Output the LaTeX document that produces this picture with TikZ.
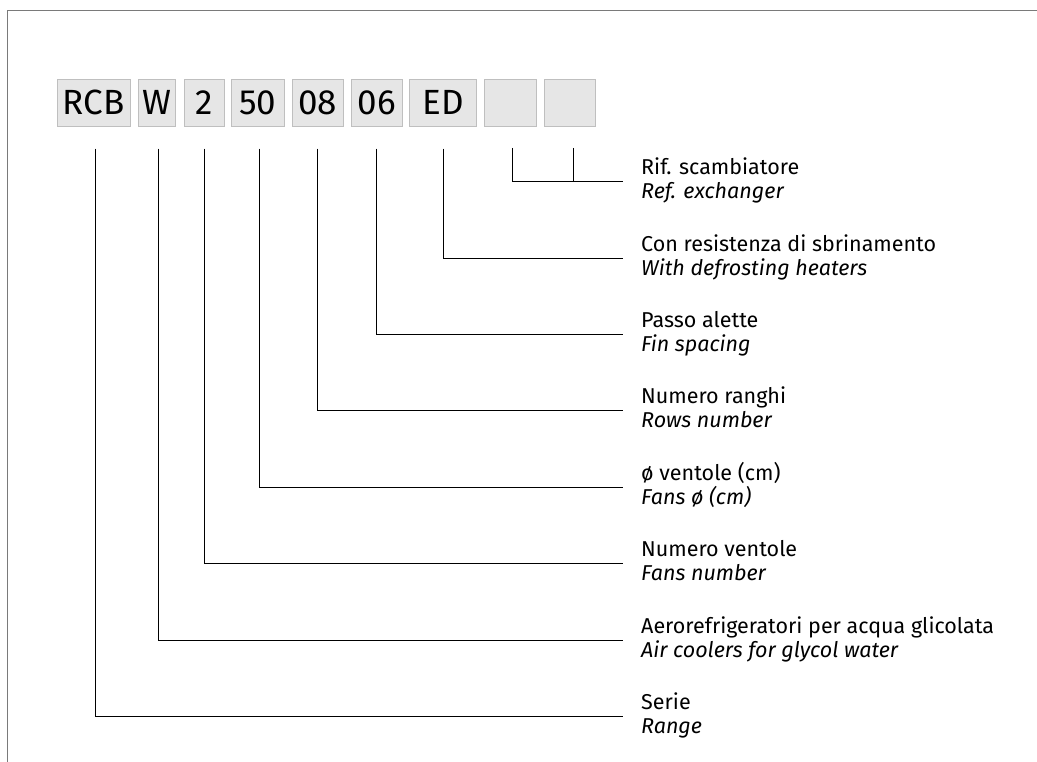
\documentclass[tikz,border=0pt]{standalone}
\usepackage{fontspec}
\setmainfont{Fira Sans}
\definecolor{boxfill}{HTML}{E6E6E6}
\definecolor{boxline}{HTML}{BFBFBF}
\definecolor{frameline}{HTML}{7A7A7A}
\begin{document}
\begin{tikzpicture}[x=1pt,y=-1pt,
  code/.style={draw=boxline,fill=boxfill,line width=0.9pt,minimum height=47pt,inner sep=0pt,
    font=\fontsize{35}{40}\selectfont},
  lead/.style={line width=1pt,black},
  lab/.style={anchor=base west,inner sep=0pt,font=\fontsize{21.5}{25}\selectfont},
  labi/.style={lab,font=\fontsize{21.5}{25}\selectfont\itshape}]
\useasboundingbox (0,0) rectangle (1037,762);
\draw[frameline,line width=1.5pt] (7.5,762) |- (1037,10.5);
% code boxes
\node[code,minimum width=72.7pt] (rcb) at (93.7,102.7) {RCB};
\node[code,minimum width=37.4pt] (w) at (157,102.7) {W};
\node[code,minimum width=39.7pt] (two) at (204.2,102.7) {2};
\node[code,minimum width=53pt] (fifty) at (257.8,102.7) {50};
\node[code,minimum width=51.3pt] (eight) at (317.7,102.7) {08};
\node[code,minimum width=51.7pt] (six) at (376.8,102.7) {06};
\node[code,minimum width=67.4pt] (ed) at (443,102.7) {ED};
\node[code,minimum width=51.7pt] (ea) at (510.2,102.7) {};
\node[code,minimum width=51pt] (eb) at (569.5,102.7) {};
% labels
\node[lab] (l1) at (641,175) {Rif. scambiatore};
\node[labi] (l1i) at (641,199) {Ref. exchanger};
\node[lab] (l2) at (641,251.5) {Con resistenza di sbrinamento};
\node[labi] (l2i) at (641,275.5) {With defrosting heaters};
\node[lab] (l3) at (641,327.5) {Passo alette};
\node[labi] (l3i) at (641,351.5) {Fin spacing};
\node[lab] (l4) at (641,403.5) {Numero ranghi};
\node[labi] (l4i) at (641,427.5) {Rows number};
\node[lab] (l5) at (641,480) {ø ventole (cm)};
\node[labi] (l5i) at (641,504) {Fans ø (cm)};
\node[lab] (l6) at (641,556) {Numero ventole};
\node[labi] (l6i) at (641,580) {Fans number};
\node[lab] (l7) at (641,633) {Aerorefrigeratori per acqua glicolata};
\node[labi] (l7i) at (641,657) {Air coolers for glycol water};
\node[lab] (l8) at (641,709) {Serie};
\node[labi] (l8i) at (641,733) {Range};
% line ends
\coordinate (e1) at (623,182);
\coordinate (e2) at (623,258.5);
\coordinate (e3) at (623,334.5);
\coordinate (e4) at (623,410.5);
\coordinate (e5) at (623,487);
\coordinate (e6) at (623,563);
\coordinate (e7) at (623,640);
\coordinate (e8) at (623,716);
\coordinate (ta) at (512.5,148);
\coordinate (tb) at (573,148);
\coordinate (ja) at (573,182);
% connectors
\draw[lead] (ta) |- (e1);
\draw[lead] (tb) -- (ja);
\draw[lead] ([yshift=-22pt]ed.south) |- (e2);
\draw[lead] ([yshift=-22pt,xshift=-0.8pt]six.south) |- (e3);
\draw[lead] ([yshift=-22pt]eight.south) |- (e4);
\draw[lead] ([yshift=-22pt,xshift=1.2pt]fifty.south) |- (e5);
\draw[lead] ([yshift=-22pt]two.south) |- (e6);
\draw[lead] ([yshift=-22pt,xshift=1pt]w.south) |- (e7);
\draw[lead] ([yshift=-22pt,xshift=1.3pt]rcb.south) |- (e8);
\end{tikzpicture}
\end{document}
